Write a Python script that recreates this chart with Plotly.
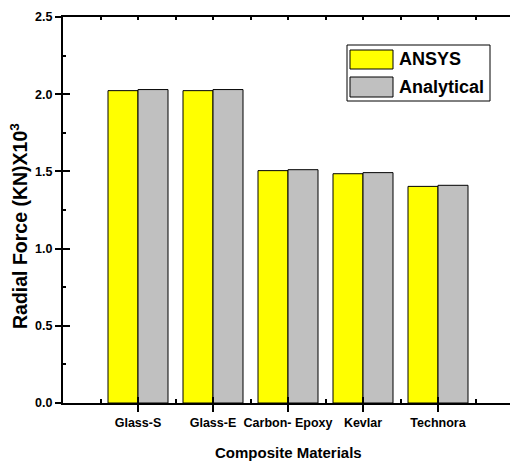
import plotly.graph_objects as go

categories = ["Glass-S", "Glass-E", "Carbon- Epoxy", "Kevlar", "Technora"]
positions = [1, 2, 3, 4, 5]
ansys = [2.023, 2.023, 1.505, 1.485, 1.403]
analytical = [2.030, 2.030, 1.511, 1.492, 1.410]
series_names = ["ANSYS", "Analytical"]
series_colors = ["#ffff00", "#c0c0c0"]
y_ticks = [0.0, 0.5, 1.0, 1.5, 2.0, 2.5]

FONT = "Liberation Sans, Arial, sans-serif"
W, H = 510, 464
ML, MT, MB, MR = 63, 17, 61, 0
PW, PH = W - ML - MR, H - MT - MB


def px_x(p):
    return (p - ML) / PW


def px_y(p):
    return (H - MB - p) / PH


fig = go.Figure()
for name, vals, col in zip(series_names, [ansys, analytical], series_colors):
    fig.add_trace(go.Bar(
        x=positions, y=vals, name=name, marker=dict(color=col, line=dict(color="black", width=1)),
        showlegend=False,
    ))

# empty helper traces to activate overlay axes (tick decorations)
fig.add_trace(go.Scatter(x=[], y=[], xaxis="x2", yaxis="y2", showlegend=False, hoverinfo="skip"))
fig.add_trace(go.Scatter(x=[], y=[], xaxis="x3", yaxis="y", showlegend=False, hoverinfo="skip"))

xr = [0, 5.96]
yr = [0, 2.5]
fig.update_layout(
    width=W, height=H,
    margin=dict(l=ML, r=MR, t=MT, b=MB),
    paper_bgcolor="white", plot_bgcolor="white",
    barmode="group", bargap=0.2, bargroupgap=0,
    font=dict(family=FONT, color="black"),
    xaxis=dict(
        range=xr, tickmode="array", tickvals=positions, ticktext=categories,
        ticks="outside", ticklen=7, tickwidth=2, tickcolor="black",
        showline=True, linewidth=2, linecolor="black", showgrid=False, zeroline=False,
        tickfont=dict(family=FONT, size=12.5, color="black", weight="bold"),
        minor=dict(tickmode="array", tickvals=[0.5, 1.5, 2.5, 3.5, 4.5, 5.5],
                   ticks="inside", ticklen=4, tickwidth=1.5, tickcolor="black", showgrid=False),
    ),
    yaxis=dict(
        range=yr, tickmode="array", tickvals=y_ticks, tickformat=".1f",
        ticks="outside", ticklen=6, tickwidth=2, tickcolor="black",
        showline=True, linewidth=2, linecolor="black", showgrid=False, zeroline=False,
        tickfont=dict(family=FONT, size=12.5, color="black", weight="bold"),
        minor=dict(tickmode="array", tickvals=[0.25, 0.75, 1.25, 1.75, 2.25],
                   ticks="inside", ticklen=3, tickwidth=1.5, tickcolor="black", showgrid=False),
    ),
    xaxis2=dict(
        range=xr, overlaying="x", anchor="y2", side="bottom",
        tickmode="array", tickvals=positions, ticks="inside", ticklen=6, tickwidth=2,
        tickcolor="black", showticklabels=False, showline=False, showgrid=False, zeroline=False,
    ),
    yaxis2=dict(
        range=yr, overlaying="y", anchor="x2", side="left",
        tickmode="array", tickvals=y_ticks, ticks="inside", ticklen=7, tickwidth=2,
        tickcolor="black", showticklabels=False, showline=False, showgrid=False, zeroline=False,
    ),
    xaxis3=dict(
        range=xr, overlaying="x", anchor="y", side="top",
        tickmode="linear", tick0=0, dtick=0.5, ticks="inside", ticklen=3, tickwidth=1.5,
        tickcolor="black", showticklabels=False, showline=True, linewidth=2, linecolor="black",
        showgrid=False, zeroline=False,
    ),
)

# axis titles
fig.add_annotation(
    text="Composite Materials", xref="paper", yref="paper",
    x=px_x(288), y=px_y(452), xanchor="center", yanchor="middle", showarrow=False,
    font=dict(family=FONT, size=15, color="black", weight="bold"),
)
fig.add_annotation(
    text="Radial Force (KN)X10<sup>3</sup>", xref="paper", yref="paper",
    x=px_x(19), y=px_y(226), xanchor="center", yanchor="middle", showarrow=False, textangle=-90,
    font=dict(family=FONT, size=19.5, color="black", weight="bold"),
)

# custom legend (box, swatches, labels)
fig.add_shape(type="rect", xref="paper", yref="paper",
              x0=px_x(347), x1=px_x(490), y0=px_y(101), y1=px_y(45),
              line=dict(color="black", width=1), fillcolor="white", layer="above")
sw_y = [(50, 69), (77, 97)]
for (y0, y1), name, col in zip(sw_y, series_names, series_colors):
    fig.add_shape(type="rect", xref="paper", yref="paper",
                  x0=px_x(350), x1=px_x(393), y0=px_y(y1), y1=px_y(y0),
                  line=dict(color="black", width=1), fillcolor=col, layer="above")
    fig.add_annotation(text=name, xref="paper", yref="paper",
                       x=px_x(397), y=px_y((y0 + y1) / 2), xanchor="left", yanchor="middle",
                       showarrow=False, font=dict(family=FONT, size=18, color="black", weight="bold"))

fig.write_html("out.html")
